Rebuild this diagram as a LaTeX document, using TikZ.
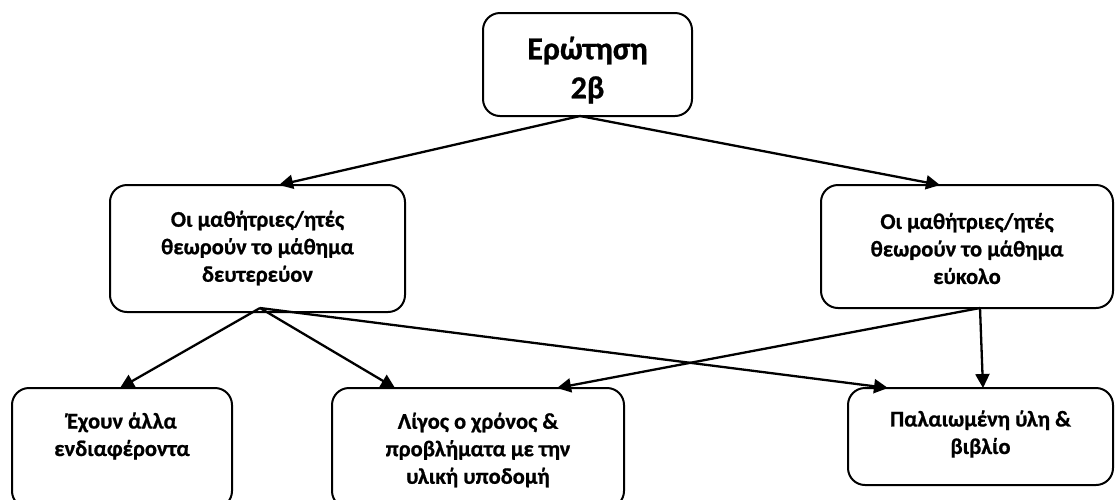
\documentclass[tikz,border=0pt]{standalone}
\usepackage{fontspec}
\setmainfont{Carlito}[BoldFeatures={FakeBold=0.8}]
\usetikzlibrary{arrows.meta}
\begin{document}
\begin{tikzpicture}[x=1pt,y=-1pt,
  box/.style={draw, line width=2pt, rounded corners=17pt, inner sep=0pt},
  lbl/.style={font=\bfseries\fontsize{22.5}{27.5}\selectfont, align=center, inner sep=0pt},
  big/.style={font=\bfseries\fontsize{32}{39}\selectfont, align=center, inner sep=0pt},
  conn/.style={line width=2.3pt, -{Triangle[length=14pt,width=14pt]}}]
\useasboundingbox (0,0) rectangle (1115,499);
\clip (0,0) rectangle (1115,499);
% boxes
\node[box, minimum width=209pt, minimum height=103pt] (q) at (587.5,64.5) {};
\node[box, minimum width=295pt, minimum height=127pt] (ml) at (257.5,248.5) {};
\node[box, minimum width=292pt, minimum height=123pt] (mr) at (967,246.5) {};
\node[box, minimum width=220pt, minimum height=120pt] (e) at (122,448) {};
\node[box, minimum width=292pt, minimum height=120pt] (l) at (478,448) {};
\node[box, minimum width=265pt, minimum height=97pt] (p) at (980.5,436.5) {};
% texts
\node[big] (qt) at (587.5,70) {Ερώτηση\\2β};
\node[lbl] (mlt) at (257.5,248) {Οι μαθήτριες/ητές\\θεωρούν το μάθημα\\δευτερεύον};
\node[lbl] (mrt) at (967,248.5) {Οι μαθήτριες/ητές\\θεωρούν το μάθημα\\εύκολο};
\node[lbl] (et) at (122,436) {Έχουν άλλα\\ενδιαφέροντα};
\node[lbl] (lt) at (478,450) {Λίγος ο χρόνος \&\\προβλήματα με την\\υλική υποδομή};
\node[lbl] (pt) at (980.5,434) {Παλαιωμένη ύλη \&\\βιβλίο};
% connector points
\coordinate (qs) at (580,116);
\coordinate (mlin) at (279,185);
\coordinate (mrin) at (940,185);
\coordinate (mls) at (260,308);
\coordinate (mrs) at (980,308);
\coordinate (ein) at (120,388);
\coordinate (lin1) at (395,388);
\coordinate (lin2) at (557,388);
\coordinate (pin1) at (888,388);
\coordinate (pin2) at (983,388);
% connectors
\draw[conn] (qs) -- (mlin);
\draw[conn] (qs) -- (mrin);
\draw[conn] (mls) -- (ein);
\draw[conn] (mls) -- (lin1);
\draw[conn] (mls) -- (pin1);
\draw[conn] (mrs) -- (lin2);
\draw[conn] (mrs) -- (pin2);
\end{tikzpicture}
\end{document}
